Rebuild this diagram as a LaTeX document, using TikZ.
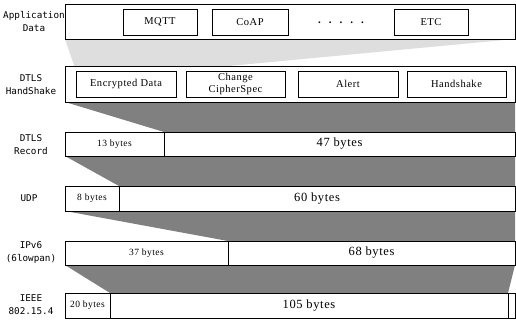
\documentclass[tikz,border=0pt]{standalone}
\usepackage{fontspec}
\setmainfont{Liberation Serif}
\newfontfamily\labelfont{DejaVu Sans Mono}
\newfontfamily\cellfont[LetterSpace=5]{Liberation Serif}
\usetikzlibrary{backgrounds}

\definecolor{paleband}{HTML}{DEDEDE}
\definecolor{darkband}{HTML}{808080}

\tikzset{
  frame/.style={draw=black, line width=0.8pt, fill=white, inner sep=0pt,
    outer sep=0pt, anchor=north west, align=center},
  field/.style={frame, font=\cellfont\fontsize{10.5}{12}\selectfont},
  small/.style={frame, font=\cellfont\fontsize{9.5}{11}\selectfont},
  large/.style={frame, font=\cellfont\fontsize{12.5}{14}\selectfont},
  rowlabel/.style={inner sep=0pt, align=center,
    font=\labelfont\fontsize{9.3}{13}\selectfont},
}

\begin{document}
\begin{tikzpicture}[x=1pt, y=-1pt]
\useasboundingbox (0,0) rectangle (516,322);

% application data row
\node[frame, minimum width=450pt, minimum height=35pt] (app) at (65,4) {};
\node[field, minimum width=74pt, minimum height=26pt] (mqtt) at (123,9) {MQTT};
\node[field, minimum width=76pt, minimum height=26pt] (coap) at (212,9) {CoAP};
\node[inner sep=0pt, font=\bfseries\fontsize{11}{12}\selectfont] (dots) at (341,22.5)
  {.\hspace{8pt}.\hspace{8pt}.\hspace{8pt}.\hspace{8pt}.};
\node[field, minimum width=74pt, minimum height=26pt] (etc) at (394,9) {ETC};

% DTLS handshake row
\node[frame, minimum width=450pt, minimum height=36pt] (hs) at (65,66) {};
\node[field, minimum width=100pt, minimum height=26pt] (enc) at (76,71) {Encrypted Data};
\node[field, minimum width=99pt, minimum height=26pt] (ccs) at (186,71) {Change\\CipherSpec};
\node[field, minimum width=100pt, minimum height=26pt] (alert) at (298,71) {Alert};
\node[field, minimum width=99pt, minimum height=26pt] (hshk) at (407,71) {Handshake};

% DTLS record row
\node[small, minimum width=99pt, minimum height=24pt] (r13) at (65,132) {13 bytes};
\node[large, minimum width=351pt, minimum height=24pt] (r47) at (164,132) {47 bytes};

% UDP row
\node[small, minimum width=54pt, minimum height=25pt] (u8) at (65,186) {8 bytes};
\node[large, minimum width=396pt, minimum height=25pt] (u60) at (119,186) {60 bytes};

% IPv6 row
\node[small, minimum width=163pt, minimum height=24pt] (i37) at (65,241) {37 bytes};
\node[large, minimum width=287pt, minimum height=24pt] (i68) at (228,241) {68 bytes};

% IEEE 802.15.4 row
\node[small, minimum width=45pt, minimum height=25pt] (e20) at (65,293) {20 bytes};
\node[large, minimum width=398pt, minimum height=25pt] (e105) at (110,293) {105 bytes};
\node[frame, minimum width=7.5pt, minimum height=25pt] (efcs) at (508,293) {};

% encapsulation bands between the layers
\begin{scope}[on background layer]
  \fill[paleband] (app.south west) -- (app.south east) -- (enc.north east) -- (enc.north west) -- cycle;
  \fill[darkband] (hs.south west) -- (hs.south east) -- (r47.north east) -- (r47.north west) -- cycle;
  \fill[darkband] (r13.south west) -- (r47.south east) -- (u60.north east) -- (u60.north west) -- cycle;
  \fill[darkband] (u8.south west) -- (u60.south east) -- (i68.north east) -- (i68.north west) -- cycle;
  \fill[darkband] (i37.south west) -- (i68.south east) -- (e105.north east) -- (e105.north west) -- cycle;
\end{scope}

% layer names
\node[rowlabel] (lapp) at (34,22) {Application\\Data};
\node[rowlabel] (lhs) at (31,84.5) {DTLS\\HandShake};
\node[rowlabel] (lrec) at (31,145) {DTLS\\Record};
\node[rowlabel] (ludp) at (29,198) {UDP};
\node[rowlabel] (lip) at (31,253) {IPv6\\(6lowpan)};
\node[rowlabel] (lieee) at (31,304.5) {IEEE\\802.15.4};
\end{tikzpicture}
\end{document}
